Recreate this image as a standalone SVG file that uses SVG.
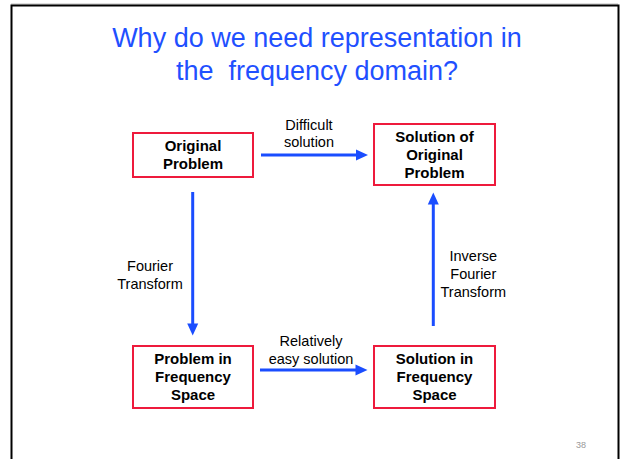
<svg xmlns="http://www.w3.org/2000/svg" width="621" height="459" viewBox="0 0 621 459">
<style>
.title{font-family:"Liberation Sans",Arial,sans-serif;font-size:27px;fill:#1f50ff;text-anchor:middle}
.box{fill:#fff;stroke:#ee1a3c;stroke-width:2}
.bt{font-family:"Liberation Sans",Arial,sans-serif;font-size:15px;font-weight:bold;fill:#000;text-anchor:middle}
.lbl{font-family:"Liberation Sans",Arial,sans-serif;font-size:14.5px;fill:#000;text-anchor:middle}
.arr{stroke:#1a4dff;stroke-width:3;fill:none}
.head{fill:#1a4dff}
</style>
<rect x="0" y="0" width="621" height="459" fill="#fff"/>
<line x1="11" y1="4" x2="618" y2="4" stroke="#bbb" stroke-width="1"/>
<path d="M11.5 470 V5.5 H618.5 V470" fill="none" stroke="#000" stroke-width="2"/>
<text class="title" x="317" y="47">Why do we need representation in</text>
<text class="title" x="317" y="80" xml:space="preserve">the  frequency domain?</text>
<g id="connectors">
<line class="arr" x1="261" y1="155" x2="358" y2="155"/>
<polygon class="head" points="368,155 356,149.5 356,160.5"/>
<line class="arr" x1="260" y1="370" x2="357" y2="370"/>
<polygon class="head" points="367.5,370 355.5,364.5 355.5,375.5"/>
<line class="arr" x1="192.7" y1="192" x2="192.7" y2="325"/>
<polygon class="head" points="192.7,335.5 187.2,323.5 198.2,323.5"/>
<line class="arr" x1="433.3" y1="326" x2="433.3" y2="203"/>
<polygon class="head" points="433.3,192.5 427.8,204.5 438.8,204.5"/>
<text class="lbl" x="309" y="129.5">Difficult</text>
<text class="lbl" x="309" y="147">solution</text>
<text class="lbl" x="150" y="270.7">Fourier</text>
<text class="lbl" x="150" y="289">Transform</text>
<text class="lbl" x="473.3" y="260.7">Inverse</text>
<text class="lbl" x="473.3" y="278.5">Fourier</text>
<text class="lbl" x="473.3" y="296.7">Transform</text>
<text class="lbl" x="311" y="346">Relatively</text>
<text class="lbl" x="311" y="364">easy solution</text>
</g>
<g id="original-problem">
<rect class="box" x="133" y="133" width="120" height="44"/>
<text class="bt" x="193" y="151.4">Original</text>
<text class="bt" x="193" y="169.4">Problem</text>
</g>
<g id="solution-original">
<rect class="box" x="374" y="124" width="121" height="61"/>
<text class="bt" x="434.5" y="141.8">Solution of</text>
<text class="bt" x="434.5" y="159.8">Original</text>
<text class="bt" x="434.5" y="177.8">Problem</text>
</g>
<g id="problem-frequency">
<rect class="box" x="133" y="346" width="120" height="62"/>
<text class="bt" x="193" y="364">Problem in</text>
<text class="bt" x="193" y="382">Frequency</text>
<text class="bt" x="193" y="400">Space</text>
</g>
<g id="solution-frequency">
<rect class="box" x="374" y="346" width="121" height="62"/>
<text class="bt" x="434.5" y="364">Solution in</text>
<text class="bt" x="434.5" y="382">Frequency</text>
<text class="bt" x="434.5" y="400">Space</text>
</g>
<text x="581" y="448" font-family="'Liberation Sans',Arial,sans-serif" font-size="9" fill="#999" text-anchor="middle">38</text>
</svg>
